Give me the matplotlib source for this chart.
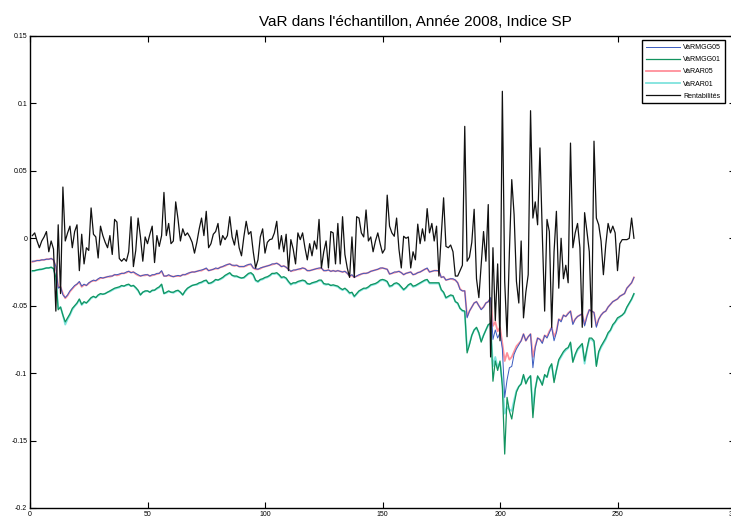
""" VaR in-sample chart, 2008, SP index. """
import matplotlib
matplotlib.use("Agg")
import matplotlib.pyplot as plt
import numpy as np

# daily returns (black)
rentabilites = [
    0.002, 0.004, -0.002, -0.007, -0.002, 0.001, 0.005, -0.010, -0.002, -0.008,
    -0.054, 0.010, -0.041, 0.038, -0.002, 0.004, 0.009, -0.007, 0.005, 0.010,
    -0.024, 0.003, -0.019, -0.007, -0.009, 0.0225, 0.003, 0.001, -0.0146, 0.009,
    0.002, -0.003, -0.007, 0.002, -0.012, 0.014, 0.012, -0.015, -0.017, -0.015,
    -0.017, -0.010, 0.016, -0.021, -0.009, 0.015, 0.001, -0.017, 0.001, -0.004,
    0.003, 0.009, -0.018, 0.002, -0.006, 0.002, 0.034, 0.002, 0.011, -0.004,
    -0.002, 0.027, 0.014, -0.002, 0.007, 0.002, 0.004, 0.001, -0.003, -0.011,
    -0.003, 0.007, 0.015, 0.002, 0.020, -0.007, -0.004, 0.003, 0.005, 0.011,
    -0.005, 0.002, -0.001, 0.002, 0.016, 0.001, -0.005, 0.006, -0.007, -0.013,
    0.001, 0.0126, 0.003, 0.005, -0.010, -0.022, -0.016, 0.001, 0.007, -0.011,
    -0.003, -0.001, -0.0005, 0.004, 0.0126, -0.008, 0.002, -0.010, 0.003, -0.024,
    -0.001, -0.008, -0.019, 0.004, -0.001, 0.004, -0.007, -0.016, -0.004, -0.013,
    -0.002, -0.008, 0.014, -0.022, -0.010, -0.002, -0.022, 0.005, 0.004, -0.019,
    0.011, -0.019, 0.016, -0.012, -0.022, -0.029, 0.001, -0.029, 0.016, 0.015,
    0.004, 0.001, 0.021, -0.002, 0.001, -0.010, -0.002, 0.004, -0.004, -0.011,
    -0.008, 0.032, 0.009, 0.004, 0.0015, 0.015, -0.008, -0.022, 0.0015, 0.000,
    0.001, -0.022, -0.010, -0.016, 0.0105, -0.004, 0.007, -0.002, 0.022, 0.004,
    0.011, -0.002, 0.009, -0.028, 0.002, 0.030, -0.006, -0.007, -0.005, -0.010,
    -0.028, -0.028, -0.024, -0.020, 0.083, -0.017, -0.014, -0.003, 0.0215, -0.030,
    -0.044, -0.020, 0.005, -0.017, 0.025, -0.088, -0.007, -0.061, -0.019, -0.076,
    0.109, -0.032, -0.073, -0.010, 0.0435, 0.0175, -0.032, -0.048, -0.002, -0.059,
    -0.040, -0.027, 0.0946, 0.015, 0.027, 0.010, 0.067, 0.003, -0.054, 0.014,
    0.005, -0.066, -0.010, 0.020, -0.037, 0.000, -0.030, -0.020, -0.033, 0.0706,
    -0.007, 0.004, 0.011, -0.007, -0.066, 0.019, 0.005, -0.010, -0.066, 0.072,
    0.015, 0.010, -0.002, -0.027, -0.005, 0.011, 0.004, 0.009, 0.004, -0.024,
    -0.004, -0.001, -0.001, -0.001, 0.000, 0.015, 0.000,
]

# VaR levels, in thousandths (shown negative)
var_mgg05 = [
    17, 17, 16.5, 16.5, 16, 16, 15.5, 15.5, 15, 16,
    21, 37, 36, 42, 44, 42, 39, 37, 35, 34,
    32, 35.5, 34, 35, 33, 32, 31, 31.5, 30, 29,
    29.5, 29, 28.5, 28, 28, 27, 27, 26.5, 26, 26,
    25, 24.5, 25.5, 25, 26, 27, 28, 27.5, 27, 27,
    28, 27, 27, 26, 26, 24, 28, 28, 27, 28,
    28.5, 28, 27.5, 28, 27, 27, 26, 25.5, 25, 25,
    24.5, 24, 23.5, 23, 22, 24, 23.5, 23, 22, 22.5,
    21.5, 21, 20, 19.5, 19, 20, 20, 20, 21, 21,
    21, 20, 19.5, 19, 22, 22.5, 23, 22, 21.5, 21,
    20.5, 20, 19, 19, 18.5, 19.5, 21, 20.5, 21.5, 23,
    24.5, 23.5, 23.5, 23, 22.5, 22, 22.5, 24, 24, 23.5,
    23, 22.5, 22, 22, 24, 24, 23.5, 24.5, 24, 24.5,
    24, 24.5, 25, 24.5, 26, 28, 27, 29, 28, 27,
    26.5, 26, 26, 25.5, 24.5, 24, 23.5, 23, 22, 22,
    22.5, 23, 26.5, 26, 25, 25, 24.5, 25.5, 27, 26,
    25.5, 25, 27, 26.5, 25.5, 25, 24, 23, 22, 25,
    24.5, 24, 24, 24, 29, 28.5, 31, 30.5, 30, 30,
    31, 33, 38, 39, 39, 59, 54, 51, 48, 47,
    50, 53, 51, 48, 47, 44, 75, 68, 74, 70,
    82, 118, 105, 96, 95, 86, 82, 79, 76, 71,
    76, 73, 71, 96, 81, 74, 75, 78, 72, 74,
    70, 66, 76, 70, 60, 62, 57, 58, 56, 54,
    64, 60, 58, 57, 56, 65, 58, 53, 54, 55,
    66, 60, 57, 55, 54, 51, 49, 47, 46, 45,
    43, 42, 41, 37, 35, 33, 29,
]

var_mgg01 = [
    24, 24, 23.5, 23, 23, 22.5, 22, 22, 21.5, 22.5,
    29, 53, 51, 57, 62, 59, 56, 52, 50, 48,
    45, 49, 47, 48, 46, 44, 43, 44, 42, 41,
    41.5, 41, 40, 39, 38, 37, 36.5, 36, 35, 35.5,
    34.5, 34, 35.5, 35, 36.5, 38.5, 42, 40, 39, 39,
    40, 38.5, 38.5, 37, 36, 34, 41, 40, 39, 40,
    40, 39, 38.5, 40, 42, 39, 37, 36, 35, 34.5,
    34, 33, 32.5, 31.5, 31, 33.5, 33, 32, 30.5, 31,
    30, 29, 27.5, 26.5, 25.5, 27.5, 28, 28, 29, 29.5,
    29, 27.5, 26, 25.5, 27, 31, 32, 30.5, 30, 29,
    28.5, 27.5, 26, 26, 25.5, 27, 29, 28.5, 29.5, 32,
    34, 33, 33, 32, 31.5, 31, 31.5, 33.5, 34, 33,
    32.5, 32, 31, 31, 33.5, 34, 34, 35, 34.5, 35,
    35.5, 37, 38, 37, 38.5, 40.5, 40, 43, 41, 39,
    38, 37, 37, 36, 34.5, 34, 33.5, 32.5, 31, 30.5,
    31, 32, 35.5, 35, 33.5, 33, 34, 36, 38, 36.5,
    34.5, 33.5, 35.5, 35, 34, 33, 32, 31, 30.5, 33,
    33, 33, 33, 33, 38, 40, 44, 43, 42, 42.5,
    47, 48, 52, 53.5, 54, 85, 79, 72, 68, 66,
    70, 77, 72, 68, 64, 63, 106, 91, 98, 91,
    110, 160, 118, 128, 134, 123, 114, 110, 108, 101,
    108, 104, 102, 133, 112, 102, 105, 109, 101, 103,
    96, 93, 107, 98, 90, 87, 84, 82, 81, 77,
    92, 86, 82, 80, 78, 91, 82, 74, 74, 76,
    95, 84, 80, 77, 74, 70, 68, 64, 62, 59,
    58, 57, 55, 51, 48, 45, 41,
]

var_ar05 = [
    17.5, 17, 16.5, 16.5, 16, 16, 15.5, 15.5, 15, 16,
    21, 36, 36, 41, 44.5, 42.5, 39.5, 37.5, 35.5, 34,
    32.5, 36, 34.5, 35, 33.5, 32, 31.5, 31.5, 30.5, 29.5,
    29.5, 29, 28.5, 28.5, 28, 27, 27.5, 27, 26, 26,
    25.5, 24.5, 25.5, 25, 26.5, 27.5, 28, 27.5, 27.5, 27,
    28, 27.5, 27, 26.5, 26, 24.5, 28, 28, 27.5, 28,
    28.5, 28, 28, 28, 27, 27, 26.5, 25.5, 25, 25,
    24.5, 24, 24, 23, 22.5, 24, 23.5, 23, 22.5, 22.5,
    21.5, 21, 20.5, 19.5, 19, 20, 20.5, 20, 21, 21,
    21, 20.5, 19.5, 19.5, 22, 23, 23, 22.5, 21.5, 21,
    20.5, 20, 19.5, 19, 18.5, 19.5, 21, 20.5, 21.5, 23,
    24.5, 24, 23.5, 23, 23, 22, 22.5, 24, 24, 23.5,
    23, 22.5, 22.5, 22, 24, 24, 23.5, 24.5, 24, 24.5,
    24, 24.5, 25, 24.5, 26, 28, 27.5, 29, 28, 27.5,
    26.5, 26, 26, 25.5, 24.5, 24, 23.5, 23, 22.5, 22,
    22.5, 23, 26.5, 26, 25.5, 25, 24.5, 25.5, 27, 26,
    25.5, 25, 27, 26.5, 25.5, 25, 24, 23, 22.5, 25,
    24.5, 24, 24, 24.5, 29, 28.5, 31, 30.5, 30, 30.5,
    31, 33, 37.5, 39, 39, 58, 54, 51, 48, 47,
    50, 52.5, 51, 48, 47, 44.5, 65, 62, 69, 66,
    78, 91, 85, 90, 88, 84, 80, 78, 76, 71,
    76, 73, 71, 88, 80, 74, 75, 77, 72, 73,
    69, 66, 73, 69, 60, 61, 57, 58, 55.5, 54,
    63, 60, 58, 57, 56, 64, 57.5, 53, 54, 55,
    65, 60, 57, 55, 54, 51, 49, 47, 46, 45,
    43, 42, 41, 37, 35, 33, 29,
]

var_ar01 = [
    24.5, 24, 23.5, 23.5, 23, 22.5, 22, 22, 21.5, 22.5,
    29, 52, 51, 57, 64, 60, 57, 53, 50.5, 48.5,
    45.5, 49.5, 47.5, 48, 46.5, 44.5, 43.5, 44, 42.5, 41.5,
    41.5, 41, 40, 39.5, 38.5, 37.5, 37, 36.5, 35.5, 35.5,
    35, 34.5, 35.5, 35, 37, 39, 42, 40, 39.5, 39,
    40, 39, 38.5, 37.5, 36.5, 34.5, 41, 40.5, 39.5, 40,
    40.5, 39.5, 39, 40, 42, 39.5, 37.5, 36, 35, 34.5,
    34.5, 33.5, 33, 32, 31.5, 33.5, 33.5, 32.5, 31, 31,
    30.5, 29.5, 28, 27, 26, 27.5, 28.5, 28.5, 29, 29.5,
    29.5, 28, 26.5, 26, 27.5, 31.5, 32.5, 31, 30.5, 29.5,
    29, 28, 26.5, 26.5, 26, 27.5, 29.5, 29, 30, 32.5,
    34.5, 33.5, 33.5, 32.5, 32, 31.5, 32, 34, 34, 33.5,
    33, 32.5, 31.5, 31.5, 34, 34.5, 34, 35, 35, 35.5,
    36, 37.5, 38.5, 37.5, 39, 41, 40.5, 43.5, 41.5, 39.5,
    38.5, 37.5, 37.5, 36.5, 35, 34.5, 34, 33, 31.5, 31,
    31.5, 32.5, 36, 35.5, 34, 33.5, 34.5, 36.5, 38.5, 37,
    35, 34, 36, 35.5, 34.5, 33.5, 32.5, 31.5, 31, 33.5,
    33.5, 33.5, 33.5, 33.5, 38.5, 40.5, 44.5, 43.5, 42.5, 43,
    47, 48.5, 52, 54, 54.5, 83, 78, 72, 68, 66.5,
    70.5, 76, 72, 68, 64.5, 63.5, 95, 88, 96, 92,
    106, 130, 125, 127, 128, 120, 113, 110, 108, 102,
    107, 104, 102, 125, 111, 103, 105, 108, 102, 103,
    97, 94, 105, 98, 91, 88, 85, 83, 81.5, 78,
    91, 87, 83, 81, 79, 93, 83, 75, 75, 77,
    94, 85, 81, 78, 75, 71, 68.5, 65, 62.5, 60,
    58.5, 57, 55.5, 51.5, 48.5, 45.5, 41.5,
]

xticks = [0, 50, 100, 150, 200, 250, 300]
yticks = [-0.2, -0.15, -0.1, -0.05, 0, 0.05, 0.1, 0.15]
ytick_labels = ["-0.2", "-0.15", "-0.1", "-0.05", "0", "0.05", "0.1", "0.15"]

# name, values, colour, line width, z-order (green/blue drawn over cyan/pink)
series = [
    ("VaRMGG05", var_mgg05, "#3a5bbf", 0.7, 4),
    ("VaRMGG01", var_mgg01, "#12935f", 0.9, 3),
    ("VaRAR05", var_ar05, "#ff8f9a", 1.3, 2),
    ("VaRAR01", var_ar01, "#7fe3dd", 1.3, 1),
]

plt.rcParams['font.family'] = ['Liberation Sans Narrow', 'Liberation Sans', 'DejaVu Sans']

fig = plt.figure(figsize=(7.31, 5.24), dpi=100)
ax = fig.add_axes([30 / 731, 16 / 524, 705 / 731, 472 / 524])

for name, vals, col, lw, z in series:
    y = -np.array(vals) / 1000
    ax.plot(np.arange(1, len(y) + 1), y, color=col, lw=lw, label=name, zorder=z)
r = np.array(rentabilites)
ax.plot(np.arange(1, len(r) + 1), r, color="#111111", lw=0.9, label="Rentabilités", zorder=5)

ax.set_xlim(0, 300)
ax.set_ylim(-0.2, 0.15)
ax.set_xticks(xticks)
ax.set_xticklabels([str(v) for v in xticks])
ax.set_yticks(yticks)
ax.set_yticklabels(ytick_labels)
ax.tick_params(direction="in", length=4, width=0.8, labelsize=5, top=True, right=True, pad=2)
for s in ax.spines.values():
    s.set_linewidth(1.0)

ax.set_title("VaR dans l'échantillon, Année 2008, Indice SP", fontsize=11, pad=7,
             x=(415 - 30) / 705)

leg = ax.legend(loc="upper right", bbox_to_anchor=(728 / 731, 1 - 37 / 524),
                bbox_transform=fig.transFigure, fontsize=5, fancybox=False,
                edgecolor="black", framealpha=1, handlelength=5, labelspacing=0.75,
                borderpad=0.5, handletextpad=0.4)
leg.get_frame().set_linewidth(1.0)

fig.savefig("out.png", dpi=100)
